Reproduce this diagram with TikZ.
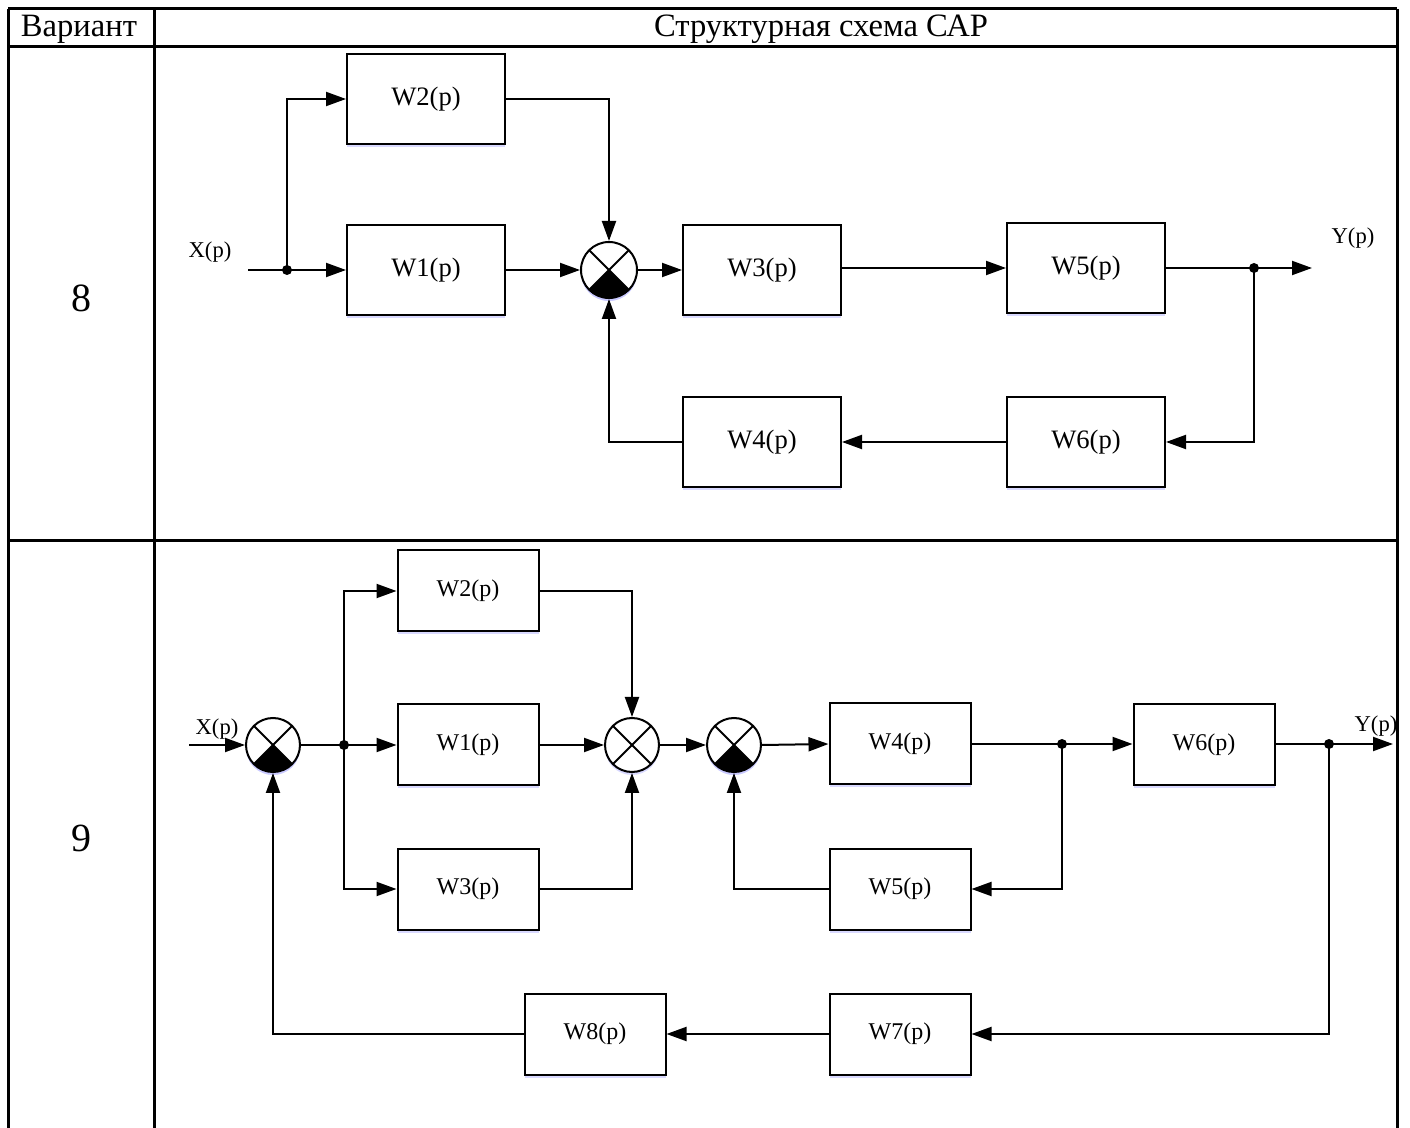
\documentclass[tikz,border=0pt]{standalone}
\usepackage{fontspec}
\setmainfont{Liberation Serif}
\usetikzlibrary{arrows.meta,shadows}

\tikzset{
  wire/.style={line width=1pt},
  arr/.style={wire, -{Triangle[length=10pt,width=7pt]}},
  grid/.style={line width=1.5pt},
  shade/.style={drop shadow={shadow xshift=0pt, shadow yshift=-1.5pt, fill=blue!25!white, opacity=0.6}},
  blk/.style={draw, line width=1pt, fill=white, shade, inner sep=0pt},
  blkA/.style={blk, minimum width=79pt, minimum height=45pt, font=\fontsize{13.3}{15}\selectfont},
  blkB/.style={blk, minimum width=70.5pt, minimum height=40.5pt, font=\fontsize{12}{14}\selectfont},
  sumj/.style={circle, draw, line width=1pt, fill=white, shade, inner sep=0pt,
    path picture={
      \draw[black, line width=1pt] (path picture bounding box.center) ++(-30pt,-30pt) -- ++(60pt,60pt);
      \draw[black, line width=1pt] (path picture bounding box.center) ++(-30pt,30pt) -- ++(60pt,-60pt);
    }},
  sumf/.style={sumj,
    path picture={
      \fill[black] (path picture bounding box.center) -- ++(-30pt,-30pt) -- ++(60pt,0pt) -- cycle;
      \draw[black, line width=1pt] (path picture bounding box.center) ++(-30pt,-30pt) -- ++(60pt,60pt);
      \draw[black, line width=1pt] (path picture bounding box.center) ++(-30pt,30pt) -- ++(60pt,-60pt);
    }},
  sumA/.style={minimum size=28pt},
  sumB/.style={minimum size=27pt},
  dot/.style={circle, fill, inner sep=0pt, minimum size=5pt},
  sig/.style={font=\fontsize{11.3}{13}\selectfont, inner sep=0pt},
  hdr/.style={font=\fontsize{16.3}{18}\selectfont, inner sep=0pt},
  num/.style={font=\fontsize{20}{24}\selectfont, inner sep=0pt}
}

\begin{document}
\begin{tikzpicture}[x=0.5pt,y=-0.5pt]
  \useasboundingbox (0,0) rectangle (1410,1128);

  % table frame
  \draw[grid] (8,9) -- (1397,9);
  \draw[grid] (8,47) -- (1397,47);
  \draw[grid] (8,541) -- (1397,541);
  \draw[grid] (8,9) -- (8,1128);
  \draw[grid] (154,9) -- (154,1128);
  \draw[grid] (1397,9) -- (1397,1128);

  \node[hdr] (hvar) at (79,29) {Вариант};
  \node[hdr] (hsch) at (821,29) {Структурная схема САР};
  \node[num] (n8) at (81,298) {8};
  \node[num] (n9) at (81,838) {9};

  % ---------- variant 8 ----------
  \node[blkA] (a2) at (426,99)  {W2(p)};
  \node[blkA] (a1) at (426,270) {W1(p)};
  \node[sumj,sumf,sumA] (as) at (609,270) {};
  \node[blkA] (a3) at (762,270) {W3(p)};
  \node[blkA] (a5) at (1086,268) {W5(p)};
  \node[blkA] (a6) at (1086,442) {W6(p)};
  \node[blkA] (a4) at (762,442) {W4(p)};

  \coordinate (ain) at (248,270);
  \node[dot] (ad1) at (287,270) {};
  \node[dot] (ad2) at (1254,268) {};
  \coordinate (aout) at (1312,268);
  \node[sig] (ax) at (210,252) {X(p)};
  \node[sig] (ay) at (1353,238) {Y(p)};

  \draw[arr] (ain) -- (a1.west);
  \draw[arr] (ad1.center) |- (a2.west);
  \draw[arr] (a1.east) -- (as.west);
  \draw[arr] (a2.east) -| (as.north);
  \draw[arr] (as.east) -- (a3.west);
  \draw[arr] (a3.east |- a5) -- (a5.west);
  \draw[arr] (a5.east) -- (aout);
  \draw[arr] (ad2.center) |- (a6.east);
  \draw[arr] (a6.west) -- (a4.east);
  \draw[arr] (a4.west) -| (as.south);

  % ---------- variant 9 ----------
  \node[sumj,sumf,sumB] (bs1) at (273,745) {};
  \node[blkB] (b2) at (468,591)  {W2(p)};
  \node[blkB] (b1) at (468,745)  {W1(p)};
  \node[blkB] (b3) at (468,889)  {W3(p)};
  \node[sumj,sumB] (bs2) at (632,745) {};
  \node[sumj,sumf,sumB] (bs3) at (734,745) {};
  \node[blkB] (b4) at (900,744)  {W4(p)};
  \node[blkB] (b6) at (1204,745) {W6(p)};
  \node[blkB] (b5) at (900,889)  {W5(p)};
  \node[blkB] (b7) at (900,1034) {W7(p)};
  \node[blkB] (b8) at (595,1034) {W8(p)};

  \coordinate (bin) at (189,745);
  \node[dot] (bd1) at (344,745) {};
  \node[dot] (bd2) at (1062,744) {};
  \node[dot] (bd3) at (1329,744) {};
  \coordinate (bout) at (1393,744);
  \node[sig] (bx) at (217,729) {X(p)};
  \node[sig] (by) at (1376,726) {Y(p)};

  \draw[arr] (bin) -- (bs1.west);
  \draw[wire] (bs1.east) -- (bd1.center);
  \draw[arr] (bd1.center) |- (b2.west);
  \draw[arr] (bd1.center) -- (b1.west);
  \draw[arr] (bd1.center) |- (b3.west);
  \draw[arr] (b1.east) -- (bs2.west);
  \draw[arr] (b2.east) -| (bs2.north);
  \draw[arr] (b3.east) -| (bs2.south);
  \draw[arr] (bs2.east) -- (bs3.west);
  \draw[arr] (bs3.east) -- (b4.west);
  \draw[wire] (b4.east) -- (bd2.center);
  \draw[arr] (bd2.center) -- (b6.west |- bd2);
  \draw[arr] (bd2.center) |- (b5.east);
  \draw[arr] (b5.west) -| (bs3.south);
  \draw[wire] (b6.east |- bd3) -- (bd3.center);
  \draw[arr] (bd3.center) -- (bout);
  \draw[arr] (bd3.center) |- (b7.east);
  \draw[arr] (b7.west) -- (b8.east);
  \draw[arr] (b8.west) -| (bs1.south);
\end{tikzpicture}
\end{document}
